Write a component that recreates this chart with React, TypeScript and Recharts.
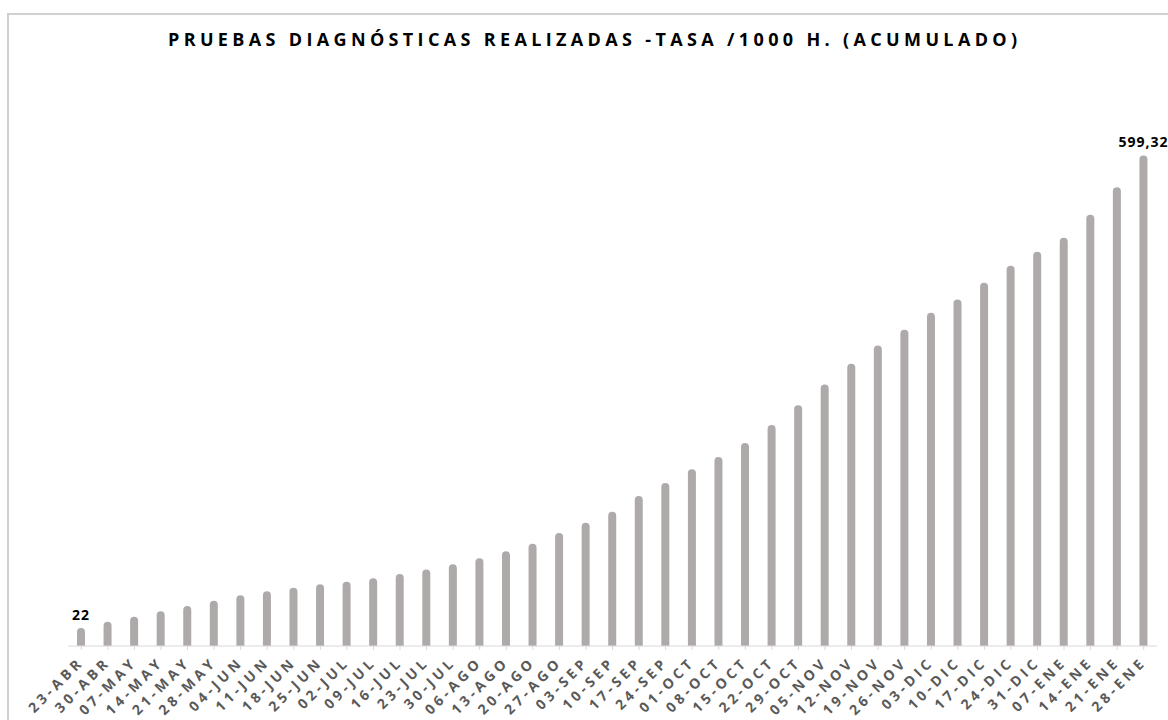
import * as React from 'react';
import { Bar, BarChart, LabelList, XAxis, YAxis } from 'recharts';

const semanas = [
  '23-ABR', '30-ABR', '07-MAY', '14-MAY', '21-MAY', '28-MAY', '04-JUN', '11-JUN', '18-JUN', '25-JUN',
  '02-JUL', '09-JUL', '16-JUL', '23-JUL', '30-JUL', '06-AGO', '13-AGO', '20-AGO', '27-AGO', '03-SEP',
  '10-SEP', '17-SEP', '24-SEP', '01-OCT', '08-OCT', '15-OCT', '22-OCT', '29-OCT', '05-NOV', '12-NOV',
  '19-NOV', '26-NOV', '03-DIC', '10-DIC', '17-DIC', '24-DIC', '31-DIC', '07-ENE', '14-ENE', '21-ENE',
  '28-ENE',
];

const tasa = [
  22, 29.7, 35.8, 42.4, 48.9, 55.3, 61.9, 66.8, 71.2, 75.4,
  78.5, 82.7, 87.9, 93.4, 99.8, 107.1, 115.7, 124.9, 138.0, 150.6,
  164.0, 183.2, 199.1, 215.9, 230.8, 247.9, 269.9, 294.3, 319.6, 344.8,
  367.2, 386.3, 407.3, 423.4, 443.7, 464.5, 481.6, 498.7, 526.8, 560.6,
  599.32,
];

// only first and last bars carry a data label
const etiquetas: Record<number, string> = { 0: '22', 40: '599,32' };

const data = semanas.map((semana, i) => ({ semana, tasa: tasa[i], etiqueta: etiquetas[i] ?? '' }));

const FONT = '"Open Sans", "Noto Sans", sans-serif';

function SemanaTick({ x, y, payload }: any) {
  return (
    <text
      x={0}
      y={0}
      transform={`translate(${x + 3.5},${y + 11}) rotate(-45)`}
      textAnchor='end'
      fontFamily={FONT}
      fontSize={14}
      fontWeight='bold'
      letterSpacing={3.8}
      fill='#595959'
    >
      {payload.value}
    </text>
  );
}

export default function App() {
  return (
    <div style={{ position: 'absolute', left: 0, top: 0, width: 1168, height: 720, overflow: 'hidden', background: '#fff' }}>
      <div
        style={{
          position: 'absolute',
          left: 168,
          top: 31,
          fontFamily: FONT,
          fontSize: 18,
          lineHeight: '17px',
          fontWeight: 'bold',
          letterSpacing: 4.35,
          whiteSpace: 'nowrap',
          color: '#000',
        }}
      >
        PRUEBAS DIAGNÓSTICAS REALIZADAS -TASA /1000 H. (ACUMULADO)
      </div>
      <div style={{ position: 'absolute', left: 0, top: 0 }}>
        <BarChart width={1168} height={720} data={data} margin={{ top: 114, right: 11, bottom: 0, left: 68 }}>
          <XAxis
            dataKey='semana'
            interval={0}
            height={74}
            stroke='#d9d9d9'
            tickSize={4}
            tick={<SemanaTick />}
          />
          <YAxis hide domain={[0, 650]} allowDataOverflow />
          <Bar dataKey='tasa' fill='#aeaaaa' barSize={8} radius={[4, 4, 0, 0]} isAnimationActive={false}>
            <LabelList
              dataKey='etiqueta'
              position='top'
              offset={8}
              fontFamily={FONT}
              fontSize={14}
              fontWeight='bold'
              letterSpacing={1}
              fill='#000'
            />
          </Bar>
        </BarChart>
      </div>
      {/* chart-area frame, cut by the window on the right and bottom */}
      <div
        style={{
          position: 'absolute',
          left: 7,
          top: 13,
          width: 1200,
          height: 760,
          borderLeft: '2px solid #d0d0d0',
          borderTop: '2px solid #d0d0d0',
          pointerEvents: 'none',
        }}
      />
    </div>
  );
}
